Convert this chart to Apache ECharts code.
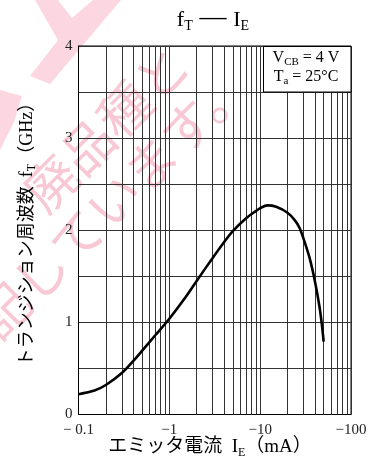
<!DOCTYPE html>
<html>
<head>
<meta charset="utf-8">
<script src="https://cdn.jsdelivr.net/npm/echarts@6/dist/echarts.min.js"></script>
<style>
html,body{margin:0;padding:0;background:#fff;}
#chart{width:372px;height:473px;}
</style>
</head>
<body>
<div id="chart"></div>
<script>
// ---- data (emitter current magnitude in mA, transition frequency in GHz) ----
const currentMA = [0.1, 0.15, 0.2, 0.3, 0.4, 0.5, 0.7, 1, 1.5, 2, 3, 4, 5, 7, 9, 10, 12, 15, 20, 24, 27, 30, 35, 40, 45, 48, 50];
const fTGHz     = [0.22, 0.26, 0.32, 0.45, 0.58, 0.69, 0.86, 1.04, 1.27, 1.45, 1.70, 1.87, 1.99, 2.13, 2.21, 2.24, 2.27, 2.255, 2.19, 2.11, 2.03, 1.91, 1.70, 1.45, 1.17, 0.96, 0.79];
const xTickLabels = ['\u2212 0.1', '\u22121', '\u221210', '\u2212100'];
const yTickLabels = ['0', '1', '2', '3', '4'];
const xMinorGrid = [0.2, 0.3, 0.4, 0.5, 0.6, 0.7, 0.8, 0.9, 2, 3, 4, 5, 6, 7, 8, 9, 20, 30, 40, 50, 60, 70, 80, 90];

const serif = "'Liberation Serif', 'Noto Sans CJK JP', serif";
const gridColor = '#333';
const wm = 'rgba(238,120,150,0.40)';
const wmFill = 'rgba(246,150,175,0.38)';

const chart = echarts.init(document.getElementById('chart'), null, {renderer: 'canvas'});

function subRich(size, subSize) {
  return {
    a: {fontFamily: serif, fontSize: size, lineHeight: size + 4, color: '#222'},
    s: {fontFamily: serif, fontSize: subSize, lineHeight: 9, verticalAlign: 'bottom', color: '#222'}
  };
}

chart.setOption({
  animation: false,
  backgroundColor: '#fff',
  grid: {left: 78.5, right: 21, top: 46, bottom: 58.5, show: true, borderColor: '#000', borderWidth: 1, backgroundColor: 'transparent'},
  xAxis: {
    type: 'log', logBase: 10, min: 0.1, max: 100,
    axisLine: {show: true, lineStyle: {color: '#000', width: 1}},
    axisTick: {show: false},
    splitLine: {show: true, lineStyle: {color: gridColor, width: 1}},
    axisLabel: {
      margin: 8, fontFamily: serif, fontSize: 15, color: '#222',
      formatter: function (v) { const i = Math.round(Math.log10(v)) + 1; return xTickLabels[i] || ''; }
    }
  },
  yAxis: {
    type: 'value', min: 0, max: 4, interval: 0.5,
    axisLine: {show: true, lineStyle: {color: '#000', width: 1}},
    axisTick: {show: false},
    splitLine: {show: true, lineStyle: {color: gridColor, width: 1}},
    axisLabel: {
      margin: 6, fontFamily: serif, fontSize: 15, color: '#222',
      formatter: function (v) { return (Math.abs(v - Math.round(v)) < 1e-6) ? yTickLabels[Math.round(v)] : ''; }
    }
  },
  series: [{
    type: 'line',
    data: currentMA.map((x, i) => [x, fTGHz[i]]),
    showSymbol: false,
    smooth: 0.3,
    lineStyle: {color: '#000', width: 2.6},
    z: 5,
    markLine: {
      silent: true, symbol: 'none', animation: false,
      label: {show: false},
      lineStyle: {type: 'solid', color: gridColor, width: 1},
      data: xMinorGrid.map(v => ({xAxis: v}))
    }
  }],
  graphic: [
    // watermark shapes
    {type: 'polygon', z: -10, shape: {points: [[35,0],[58,0],[72,18],[93,0],[121,0],[50,84],[30,76],[58,40]]}, style: {fill: wmFill}},
    {type: 'polygon', z: -10, shape: {points: [[0,90],[22,96],[14,122],[0,150]]}, style: {fill: wmFill}},
    {type: 'text', z: -10, x: 106, y: 128, rotation: Math.PI / 4,
      style: {text: '廃品種と', font: "52px 'Noto Sans CJK JP'", fill: wm, align: 'center', verticalAlign: 'middle'}},
    {type: 'text', z: -10, x: 112, y: 202, rotation: Math.PI / 4,
      style: {text: '記しています。', font: "52px 'Noto Sans CJK JP'", fill: wm, align: 'center', verticalAlign: 'middle'}},
    // title
    {type: 'text', x: 213, y: 20, z: 100,
      style: {text: '{a|f}{s|T}{d| \u2014 }{a|I}{s|E}', align: 'center', verticalAlign: 'middle',
        rich: {
          a: {fontFamily: serif, fontSize: 22, lineHeight: 26, color: '#111'},
          s: {fontFamily: serif, fontSize: 14, lineHeight: 12, verticalAlign: 'bottom', color: '#111'},
          d: {fontFamily: serif, fontSize: 27, lineHeight: 26, padding: [0, 0, 5, 0], color: '#111'}
        }}},
    // condition box
    {type: 'rect', z: 100, shape: {x: 263.5, y: 46.5, width: 87.5, height: 45.5}, style: {fill: '#fff', stroke: '#000', lineWidth: 1}},
    {type: 'text', z: 101, x: 306, y: 58,
      style: {text: '{a|V}{s|CB}{a| = 4 V}', align: 'center', verticalAlign: 'middle', rich: subRich(16, 11)}},
    {type: 'text', z: 101, x: 306, y: 77,
      style: {text: '{a|T}{s|a}{a| = 25°C}', align: 'center', verticalAlign: 'middle', rich: subRich(16, 11)}},
    // axis names
    {type: 'text', z: 100, x: 210, y: 447,
      style: {text: '{a|エミッタ電流  I}{s|E}{a|（mA）}', align: 'center', verticalAlign: 'middle', rich: subRich(19, 12)}},
    {type: 'text', z: 100, x: 27, y: 230, rotation: Math.PI / 2,
      style: {text: '{a|トランジション周波数  f}{s|T}{a|（GHz）}', align: 'center', verticalAlign: 'middle', rich: subRich(18, 12)}}
  ]
});
</script>
</body>
</html>
